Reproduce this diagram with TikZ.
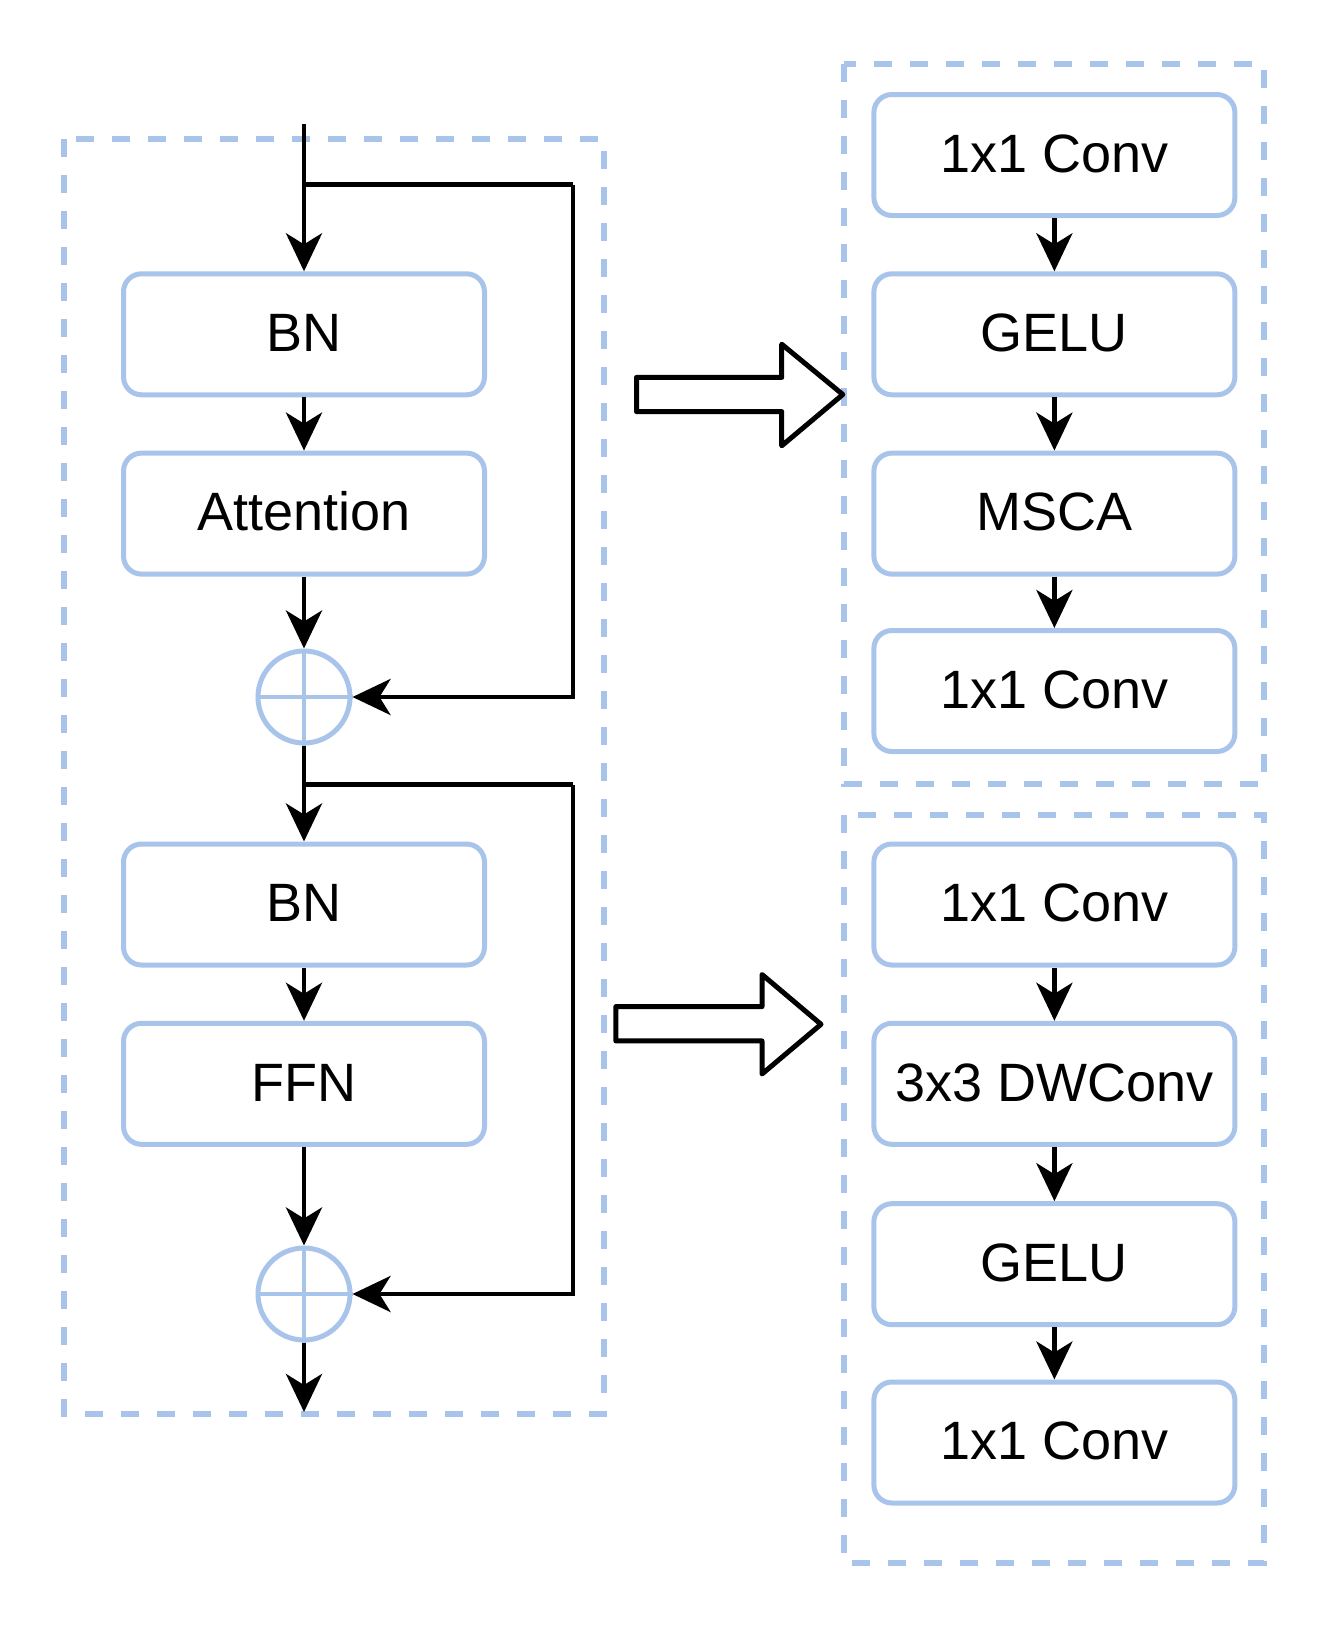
\documentclass[tikz,border=0pt]{standalone}
\usepackage{fontspec}
\setmainfont{Liberation Sans}
\usetikzlibrary{arrows.meta}
\definecolor{bl}{HTML}{A9C4EB}
\tikzset{
  blk/.style={draw=bl, line width=5pt, rounded corners=18pt, minimum width=361pt, minimum height=121pt, inner sep=0pt, fill=white,
    font=\fontsize{54}{60}\selectfont, text height=34.5pt, text depth=0pt},
  summ/.style={circle, draw=bl, line width=5pt, minimum size=92pt, inner sep=0pt},
  grp/.style={draw=bl, line width=5.5pt, dash pattern=on 18pt off 18pt},
  arr/.style={line width=4.8pt, -{Stealth[length=38pt, width=36pt, inset=11pt]}},
  ln/.style={line width=4.8pt},
  hollow/.style={draw=black, line width=5pt, line join=round, fill=white}
}
\begin{document}
\begin{tikzpicture}[x=1pt, y=-1pt]
\useasboundingbox[fill=white] (0,0) rectangle (1326,1626);
% group frames
\draw[grp] (64,139) rectangle (604,1414);
\draw[grp] (844,64) rectangle (1264,784);
\draw[grp] (844,815) rectangle (1264,1563);
% left column
\node[blk] (bn1) at (304,334.3) {BN};
\node[blk] (att) at (304,513.6) {Attention};
\node[summ] (c1) at (304,697) {};
\node[blk] (bn2) at (304,904.5) {BN};
\node[blk] (ffn) at (304,1083.8) {FFN};
\node[summ] (c2) at (304,1294) {};
\foreach \c in {c1,c2}{
  \draw[bl, line width=4pt] (\c.north) -- (\c.south);
  \draw[bl, line width=4pt] (\c.west) -- (\c.east);
}
\coordinate (in) at (304,124);
\coordinate (s1) at (304,184.5);
\coordinate (r1) at (573,184.5);
\coordinate (s2) at (304,784.8);
\coordinate (r2) at (573,784.8);
\coordinate (out) at (304,1412);
\draw[arr] (in) -- (bn1.north);
\draw[arr] (bn1.south) -- (att.north);
\draw[arr] (att.south) -- (c1.north);
\draw[ln] (s1) -- (r1);
\draw[arr] (r1) |- (c1.east);
\draw[arr] (c1.south) -- (bn2.north);
\draw[ln] (s2) -- (r2);
\draw[arr] (r2) |- (c2.east);
\draw[arr] (bn2.south) -- (ffn.north);
\draw[arr] (ffn.south) -- (c2.north);
\draw[arr] (c2.south) -- (out);
% right upper column
\node[blk] (a1) at (1054.4,155) {1x1 Conv};
\node[blk] (a2) at (1054.4,334.3) {GELU};
\node[blk] (a3) at (1054.4,513.6) {MSCA};
\node[blk] (a4) at (1054.4,691) {1x1 Conv};
\draw[arr] (a1.south) -- (a2.north);
\draw[arr] (a2.south) -- (a3.north);
\draw[arr] (a3.south) -- (a4.north);
% right lower column
\node[blk] (b1) at (1054.4,904.5) {1x1 Conv};
\node[blk] (b2) at (1054.4,1083.8) {3x3 DWConv};
\node[blk] (b3) at (1054.4,1264.2) {GELU};
\node[blk] (b4) at (1054.4,1442.5) {1x1 Conv};
\draw[arr] (b1.south) -- (b2.north);
\draw[arr] (b2.south) -- (b3.north);
\draw[arr] (b3.south) -- (b4.north);
% hollow arrows
\draw[hollow] (636.5,377.4) -- (781.7,377.4) -- (781.7,344.2) -- (842.8,394.5) -- (781.7,445.8) -- (781.7,411.6) -- (636.5,411.6) -- cycle;
\draw[hollow] (615.8,1006.6) -- (762,1006.6) -- (762,974.5) -- (821,1024.3) -- (762,1074) -- (762,1040.9) -- (615.8,1040.9) -- cycle;
\end{tikzpicture}
\end{document}
